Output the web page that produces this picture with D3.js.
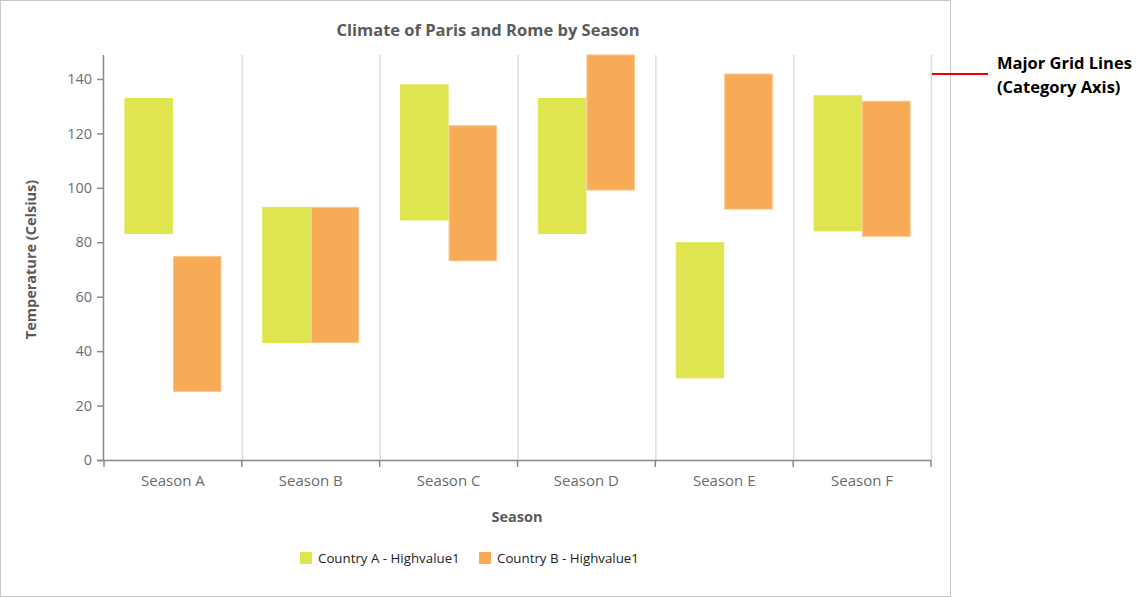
<!DOCTYPE html>
<html><head><meta charset="utf-8">
<script src="https://cdn.jsdelivr.net/npm/d3@7"></script>
<style>
body{margin:0;background:#fff;}
svg{display:block;font-family:"Open Sans","Noto Sans",sans-serif;}
</style></head>
<body><svg id="c" width="1142" height="598"></svg>
<script>
const categories = ["Season A","Season B","Season C","Season D","Season E","Season F"];
const seriesNames = ["Country A - Highvalue1","Country B - Highvalue1"];
const countryALow  = [83, 43, 88, 83, 30, 84];
const countryAHigh = [133, 93, 138, 133, 80, 134];
const countryBLow  = [25, 43, 73, 99, 92, 82];
const countryBHigh = [75, 93, 123, 149, 142, 132];
const yTicks = [0,20,40,60,80,100,120,140];
const colors = ["#dfe54f","#f8ab56"];
const strokes = ["#dfe54f","#fbc58a"];

const svg = d3.select("#c");
const L=104, R=931, T=55, B=460;

svg.append("rect").attr("x",0.5).attr("y",0.5).attr("width",950).attr("height",596)
  .attr("fill","none").attr("stroke","#c8c8c8");

const x = d3.scaleBand().domain(categories).range([L,R]).paddingInner(0).paddingOuter(0);
const y = d3.scaleLinear().domain([0,148.8]).range([B,T]);
const inner = d3.scaleBand().domain([0,1]).range([0,x.bandwidth()]).paddingInner(0).paddingOuter(0.42);

const bounds = categories.map(c=>x(c)).concat([R]).slice(1);
svg.append("g").selectAll("line").data(bounds).join("line")
  .attr("x1",d=>d+0.5).attr("x2",d=>d+0.5).attr("y1",T).attr("y2",B)
  .attr("stroke","#dcdcdc").attr("stroke-width",1.5);

const series = [
  categories.map((c,i)=>({c,lo:countryALow[i],hi:countryAHigh[i]})),
  categories.map((c,i)=>({c,lo:countryBLow[i],hi:countryBHigh[i]}))
];
const clipId="plotclip";
svg.append("clipPath").attr("id",clipId).append("rect").attr("x",L).attr("y",T-1).attr("width",R-L).attr("height",B-T+1);
series.forEach((s,si)=>{
  svg.append("g").attr("clip-path",`url(#${clipId})`).selectAll("rect").data(s).join("rect")
    .attr("x",d=>x(d.c)+inner(si)+0.5)
    .attr("width",inner.bandwidth()-1)
    .attr("y",d=>y(d.hi)+0.5)
    .attr("height",d=>y(d.lo)-y(d.hi)-1)
    .attr("fill",colors[si]).attr("stroke",strokes[si]).attr("stroke-width",1);
});

const yAxis = d3.axisLeft(y).tickValues(yTicks).tickSize(7).tickPadding(5);
const gy = svg.append("g").attr("transform",`translate(${L},0)`).call(yAxis);
gy.select(".domain").attr("stroke","#8a8a8a").attr("stroke-width",1.5).attr("d",`M-0.5,${T}V${B}`);
gy.selectAll(".tick line").attr("stroke","#8a8a8a").attr("stroke-width",1.5);
gy.selectAll(".tick text").attr("fill","#6b6f78").attr("font-size",14.5).attr("font-family","'Open Sans',sans-serif");

const xAxis = d3.axisBottom(x).tickSize(0).tickPadding(15);
const gx = svg.append("g").attr("transform",`translate(0,${B})`).call(xAxis);
gx.select(".domain").attr("stroke","#8a8a8a").attr("stroke-width",1.5).attr("d",`M${L-7},0.5H${R}`);
gx.selectAll(".tick text").attr("fill","#6b6b6b").attr("font-size",15).attr("font-family","'Open Sans',sans-serif");
gx.append("g").selectAll("line").data([L].concat(bounds)).join("line")
  .attr("x1",d=>d).attr("x2",d=>d).attr("y1",0).attr("y2",7)
  .attr("stroke","#8a8a8a").attr("stroke-width",1.5);

svg.append("text").attr("x",488).attr("y",36).attr("text-anchor","middle")
  .attr("font-size",16.5).attr("font-weight","bold").attr("fill","#5a5a5a")
  .text("Climate of Paris and Rome by Season");
svg.append("text").attr("transform",`translate(36,${(T+B)/2+2}) rotate(-90)`).attr("text-anchor","middle")
  .attr("font-size",14.5).attr("font-weight","bold").attr("fill","#5a5a5a")
  .text("Temperature (Celsius)");
svg.append("text").attr("x",517).attr("y",522).attr("text-anchor","middle")
  .attr("font-size",14.5).attr("font-weight","bold").attr("fill","#5a5a5a")
  .text("Season");

const legX = [300,479];
seriesNames.forEach((n,i)=>{
  svg.append("rect").attr("x",legX[i]).attr("y",552).attr("width",12).attr("height",12).attr("fill",colors[i]);
  svg.append("text").attr("x",legX[i]+18).attr("y",563).attr("font-size",13.3).attr("fill","#222").text(n);
});

svg.append("line").attr("x1",932).attr("x2",988).attr("y1",74).attr("y2",74).attr("stroke","#ee0000").attr("stroke-width",2);
svg.append("text").attr("x",997).attr("y",69).attr("font-size",16.5).attr("font-weight","bold").attr("fill","#000").text("Major Grid Lines");
svg.append("text").attr("x",997).attr("y",93).attr("font-size",16.5).attr("font-weight","bold").attr("fill","#000").text("(Category Axis)");
</script></body></html>
